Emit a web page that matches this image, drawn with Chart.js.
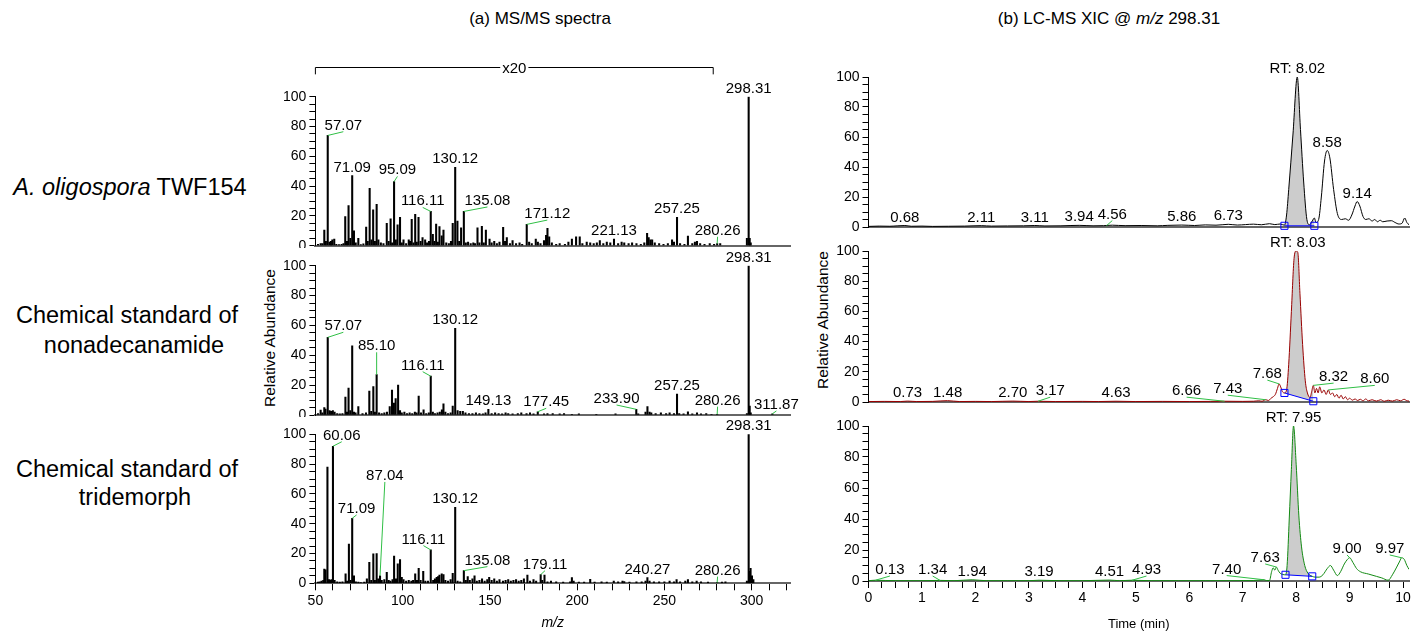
<!DOCTYPE html>
<html><head><meta charset="utf-8">
<script src="https://cdn.jsdelivr.net/npm/chart.js@4.4.1/dist/chart.umd.min.js"></script>
<style>
html,body{margin:0;padding:0;background:#fff;}
body{width:1415px;height:632px;position:relative;overflow:hidden;font-family:"Liberation Sans",Arial,sans-serif;color:#000;}
canvas{position:absolute;}
.t{position:absolute;white-space:nowrap;transform:translate(-50%,-50%);line-height:1;}
.r{transform:translate(-50%,-50%) rotate(-90deg);}
</style></head><body>
<div class="t" style="left:540px;top:18px;font-size:17px">(a) MS/MS spectra</div>
<div class="t" style="left:1109px;top:18px;font-size:17px">(b) LC-MS XIC @ <i>m/z</i> 298.31</div>
<div class="t" style="left:130px;top:188px;font-size:23.5px"><i>A. oligospora</i> TWF154</div>
<div class="t" style="left:127px;top:316px;font-size:23.5px">Chemical standard of</div>
<div class="t" style="left:134px;top:346px;font-size:23.5px">nonadecanamide</div>
<div class="t" style="left:127px;top:470px;font-size:23.5px">Chemical standard of</div>
<div class="t" style="left:135px;top:498px;font-size:23.5px">tridemorph</div>
<div class="t r" style="left:270px;top:338px;font-size:15.5px">Relative Abundance</div>
<div class="t r" style="left:823px;top:320px;font-size:15.5px">Relative Abundance</div>
<canvas id="ms1"></canvas><canvas id="ms2"></canvas><canvas id="ms3"></canvas>
<canvas id="xic1"></canvas><canvas id="xic2"></canvas><canvas id="xic3"></canvas>
<script>
// ---------------- DATA ----------------
// MS/MS spectra: [m/z, relative abundance as displayed]
const twfPeaks = [[51.5,1],[53,1.5],[54,1.5],[55.1,10.5],[56,3],[57.07,74],[58.1,2.5],[58.9,3],[59.7,4],[60.8,4.5],[62,1],[63.5,0.8],[65,1],[66.1,1.5],[67.1,19.5],[68.1,3],[69,27],[70,5],[71.09,47],[72.1,10],[73.1,2],[74.6,5],[76,0.8],[77.5,1.2],[79.1,12.5],[80,3],[81.1,38.5],[82.1,4],[83.1,24],[84.1,3],[85.1,27.7],[86.1,4],[87.5,2],[89,1.5],[90.9,15],[92,3],[93.1,18],[94,2],[95.09,43],[96.1,4],[97.1,14],[98.5,19],[99.5,2],[100.5,4],[102,1.5],[103.5,4],[104.2,3],[105.2,17.7],[106.2,2],[107.2,21],[108.1,2.5],[109.1,19],[110.3,3],[111.4,5.4],[112.9,4],[114,2],[115.1,3],[116.11,23],[117.3,7.6],[118.2,3],[119.2,14.5],[120.2,2.5],[121.1,12.8],[122.4,6.7],[123.4,10.5],[125,2],[126.5,1.5],[127.7,3],[128.7,15],[130.12,52.6],[131.4,16.5],[132.4,3],[133.5,12],[135.08,23],[136.2,2],[137.5,2.5],[139,1.5],[140.5,2],[141.5,1.5],[142.9,12],[144,2],[145.4,13],[146.5,2],[147.7,10.5],[149.8,4.5],[151,2],[152.5,3],[154,1.5],[155.5,2.5],[157.6,12.3],[158.7,3],[159.7,5.4],[161.5,1.5],[163,3.5],[165,1.5],[167,2],[168.5,1],[171.12,14.3],[172.5,2.5],[174,1.5],[176.3,4.5],[177.5,2.5],[179,1.5],[181,3.5],[182.2,7],[183,11.6],[184,6],[185.5,2],[188,1],[190,1.5],[193,1],[195,2.5],[197,4.5],[199.4,6],[201.5,6],[203,1.5],[205.5,2.5],[207.5,2],[209.5,1.5],[211.3,2],[213,3.5],[215,1.5],[217,2.5],[219,2],[221.13,4.5],[223.5,1.5],[225.5,2.5],[227,2],[229.5,1.5],[231.5,2],[234,1.5],[236.5,1],[238.5,2],[240.1,8.3],[241,5.4],[242,4],[243,4],[244.5,2],[247,1.5],[249.5,1],[252,1.5],[254.4,4],[255.5,2.5],[257.25,19],[259,1.5],[261.5,1],[263.5,6.5],[266,1.5],[267.5,2.5],[268.7,3],[270.5,1.5],[273,1],[276,1.5],[278.5,1],[280.26,1.5],[282,1.5],[297.3,5],[298.31,100],[298.9,5],[299.5,2]];
const ndaPeaks = [[51.5,1],[53,3.3],[54,1.5],[55.1,5],[55.8,4],[57.07,52],[58.1,3],[59,2.5],[60,3],[61,2],[62.5,1],[64,0.8],[65.5,1],[67.2,12],[68.1,2],[69,18],[70,3],[71.09,46.4],[72.1,2],[73,1.5],[74.6,5.6],[77,1],[79,1.5],[80.9,16],[82,2.5],[83.2,19],[84.1,2],[85.1,27],[86.5,1.5],[88,1],[89.5,1.5],[91,2],[92.6,5.6],[93.9,16.7],[95,8],[96,11],[97.4,20],[98.5,3],[99.5,1.5],[101,2],[102.5,1],[104,1.5],[105.5,1],[107,2],[108,1.5],[109.2,12.7],[110.5,1.5],[112,3.5],[113.5,1],[115,1.5],[116.11,26],[117.3,2],[118.5,1],[120,1.5],[121.3,2],[122.5,3.5],[123.4,7.4],[124.5,2],[126,1],[127.5,1.5],[128.7,6],[130.12,58],[131.5,3],[133,2.5],[134.5,2.5],[136,1.5],[138,1],[140,1],[142,1.5],[144,1],[146,0.8],[147.5,1.5],[149.13,3.8],[151,1],[153,1.5],[155,1],[157,0.8],[159,1.5],[160.5,1],[163,0.8],[166,1],[168,1.5],[171,1],[173,1.5],[175,0.8],[177.45,2.2],[181,0.8],[183,1],[186,1],[190,0.8],[192.5,1],[197,0.5],[201,0.8],[211,0.5],[222,0.8],[233.9,3.8],[235,0.8],[239.2,2],[240.3,5.6],[241.5,2],[242.5,1.5],[245,1],[248,1.5],[251,1],[253,1.5],[255.5,1],[257.25,14],[258.5,1],[261,0.8],[263.5,2.2],[266,0.8],[268.7,1.5],[271,0.8],[274,1],[277,0.5],[280.26,0.5],[297.3,1],[298.31,100],[298.9,6],[299.5,1.5],[311.87,0.8]];
const triPeaks = [[51.5,0.8],[52.5,1],[53.5,1.5],[54.5,2],[55.1,9.6],[55.8,9],[56.9,78],[57.8,2.5],[58.5,2],[59.2,2.5],[60.06,92],[61,2],[62.5,1],[64,0.8],[65.5,1],[67.3,6.3],[68.2,1.5],[69.2,26.4],[70.2,2],[71.09,43.6],[72.1,5],[73.2,1],[74.6,0.8],[76,0.5],[78,0.8],[79.5,3],[80.9,14],[82,2],[83.2,19.7],[84.1,2],[85.1,20],[86,3],[87.04,5],[88,2],[89.5,2.5],[90.9,7.4],[92,2],[93,1.5],[94.2,2.5],[95.1,18.3],[96.2,3],[97.2,13],[98.5,16],[99.5,4],[100.5,2.5],[102,1.5],[103.5,2],[105,1.5],[106,2],[107.2,6.3],[108.2,2],[109.2,10],[110.3,2],[111.8,8],[113,1.5],[114.5,1.5],[116.11,22.4],[117.5,2],[118.5,3],[119.5,4],[120.3,4.5],[121.1,5.6],[122.4,6.3],[123.4,5.8],[124.5,2],[126,1.5],[127.5,2.5],[128.7,6.7],[130.12,51],[131.5,1.5],[133,1],[135.08,8.5],[136.2,2],[137.3,4.5],[138.5,2],[140,3],[141.2,5],[142.5,1.5],[144,2],[145.5,3],[147,1.5],[148.5,2.5],[149.6,4],[151,2],[152.5,3],[154,1.5],[155.5,2.5],[157.5,1.5],[159,2],[160.5,2.5],[162,1.5],[163.5,2],[165,2.5],[166.5,1.5],[168,2],[169.5,3],[171.5,5.6],[173,1.5],[175,2.5],[176.5,1.5],[179.11,5.8],[180,2],[181.3,5.6],[183,1],[185,1.5],[188,1],[192,0.8],[196,1],[197,3.8],[198,1.5],[201,0.8],[204,0.8],[207.5,2.7],[210,0.8],[214,1],[217,0.8],[221,1.5],[223.5,1],[226,1.5],[227,1.2],[230,0.8],[234,1],[237,1],[239.2,1.5],[240.27,3.8],[241.5,1.5],[244,1],[247,1],[250,1],[253,1.5],[255.5,1],[257,2.5],[259,1],[262,1.5],[263.5,2.5],[266,1],[268.5,1.5],[271,1],[275,0.8],[280.26,0.5],[283,0.8],[285,1],[297.3,1.5],[298.31,100],[298.8,8],[299.4,10],[300.2,5],[301,2.5]];

// peak annotations: [m/z, abundance, text, labelX, labelY] (label position optional, in data units)
const twfMsLabels = [[57.07,74,'57.07',66,76.5],[71.09,47,'71.09'],[95.09,43,'95.09',97,46.5],[116.11,23,'116.11',111.5,25.7],[130.12,52.6,'130.12'],[135.08,23,'135.08',148.6,26],[171.12,14.3,'171.12',182.9,17.2],[221.13,4.5,'221.13'],[257.25,19,'257.25'],[280.26,1.5,'280.26',280.5,6],[298.31,100,'298.31']];
const ndaMsLabels = [[57.07,52,'57.07',66,55.4],[85.1,27,'85.10',85.1,42],[116.11,26,'116.11',111.5,29],[130.12,58,'130.12'],[149.13,3.8,'149.13'],[177.45,2.2,'177.45',182.3,4.5],[233.9,3.8,'233.90',222.6,6.7],[257.25,14,'257.25'],[280.26,0.5,'280.26',280.5,5.6],[298.31,100,'298.31'],[311.87,0.8,'311.87',314.2,2.7]];
const triMsLabels = [[60.06,92,'60.06',65.1,95],[71.09,43.6,'71.09',73.6,45.9],[87.04,5,'87.04',89.8,68],[116.11,22.4,'116.11',111.9,25.3],[130.12,51,'130.12'],[135.08,8.5,'135.08',148.6,11.2],[179.11,5.8,'179.11',181.6,8.5],[240.27,3.8,'240.27'],[280.26,0.5,'280.26',280.5,4.5],[298.31,100,'298.31']];

// XIC traces: [time (min), relative abundance]
const twfXic = [[0,0.4],[0.2,0.6],[0.4,0.5],[0.55,0.8],[0.68,1.0],[0.8,0.5],[1.0,0.6],[1.2,0.4],[1.5,0.5],[1.8,0.6],[2.11,0.9],[2.3,0.6],[2.6,0.7],[2.9,0.8],[3.11,1.0],[3.3,0.7],[3.6,0.8],[3.94,1.1],[4.2,0.8],[4.4,0.9],[4.56,1.2],[4.8,0.9],[5.1,1.0],[5.4,0.8],[5.6,1.1],[5.86,1.3],[6.1,1.0],[6.3,1.4],[6.5,1.2],[6.73,1.8],[6.9,1.3],[7.05,1.6],[7.2,1.9],[7.35,1.5],[7.5,2.2],[7.6,1.6],[7.7,2.0],[7.78,1.2],[7.82,8],[7.86,25],[7.94,62],[8.02,100],[8.08,65],[8.14,30],[8.2,5],[8.25,1.5],[8.3,4],[8.34,6],[8.37,3],[8.42,5],[8.47,20],[8.53,44],[8.58,51],[8.63,46],[8.7,25],[8.77,9],[8.85,5],[8.92,5.5],[8.98,4.5],[9.04,8],[9.1,14],[9.14,17],[9.19,14],[9.25,7],[9.3,5],[9.36,5.5],[9.42,4],[9.47,5],[9.52,3.5],[9.57,4.5],[9.62,3.5],[9.7,4],[9.78,4.2],[9.85,3],[9.92,2],[9.98,2.5],[10.03,6],[10.07,3],[10.11,1.5]];
const ndaXic = [[0,0.3],[0.3,0.4],[0.6,0.3],[0.73,0.6],[0.9,0.3],[1.2,0.4],[1.48,0.9],[1.7,0.3],[2.0,0.4],[2.3,0.3],[2.7,0.6],[3.0,0.3],[3.17,0.5],[3.5,0.3],[4.0,0.4],[4.3,0.3],[4.63,0.5],[5.0,0.3],[5.5,0.4],[6.0,0.3],[6.4,0.4],[6.66,0.5],[7.0,0.4],[7.2,0.5],[7.3,0.8],[7.36,0.5],[7.43,1.5],[7.48,1.0],[7.53,2.5],[7.57,3.5],[7.61,5],[7.65,9],[7.68,12],[7.71,10],[7.74,7],[7.78,6],[7.82,8],[7.86,25],[7.91,60],[7.96,95],[8.0,100],[8.03,99],[8.07,72],[8.12,38],[8.17,14],[8.21,6],[8.26,3],[8.29,7],[8.32,11],[8.35,6],[8.38,9],[8.41,6],[8.44,10],[8.48,6],[8.52,8],[8.56,5],[8.6,8],[8.64,5],[8.68,6],[8.72,3.5],[8.76,5],[8.8,2.5],[8.84,4.5],[8.88,2],[8.92,3.5],[8.96,1.5],[9.0,2.5],[9.05,1.2],[9.1,2],[9.15,1],[9.2,1.8],[9.25,0.8],[9.3,2],[9.35,0.8],[9.42,1.5],[9.5,0.6],[9.58,1.5],[9.65,0.5],[9.72,1.2],[9.8,0.6],[9.88,1.5],[9.95,0.8],[10.02,1.8],[10.06,1],[10.11,0.6]];
const triXic = [[0,0.2],[0.13,0.5],[0.5,0.2],[1.0,0.2],[1.34,0.4],[1.6,0.2],[1.94,0.8],[2.2,0.2],[2.6,0.2],[3.0,0.2],[3.19,0.5],[3.6,0.2],[4.0,0.2],[4.51,0.6],[4.7,0.2],[4.93,0.5],[5.3,0.2],[5.8,0.2],[6.3,0.2],[6.8,0.2],[7.2,0.3],[7.4,0.8],[7.44,0.3],[7.5,0.3],[7.54,6],[7.57,8.5],[7.6,7],[7.63,9],[7.66,7],[7.7,5],[7.75,4.2],[7.8,4],[7.83,10],[7.87,40],[7.91,72],[7.95,100],[8.0,75],[8.05,42],[8.1,22],[8.16,10],[8.22,5],[8.3,3],[8.36,2.5],[8.43,2.5],[8.5,4],[8.58,8],[8.64,10],[8.7,7],[8.77,3.5],[8.83,6],[8.9,11],[8.96,14],[9.0,15],[9.06,12],[9.13,8],[9.2,6],[9.35,4.5],[9.5,3],[9.6,2],[9.72,0.5],[9.8,4],[9.88,9],[9.94,13],[9.97,15],[10.02,14],[10.07,10],[10.11,7.5]];

// integration baselines (peak start / end)
const twfBase = [[7.78,0.8],[8.34,0.8]];
const ndaBase = [[7.78,6],[8.32,0.5]];
const triBase = [[7.8,4],[8.3,3]];

// XIC annotations: [time, abundance, text, labelX, labelY]
const twfXicLabels = [[0.68,1.0,'0.68'],[2.11,0.9,'2.11'],[3.11,1.0,'3.11'],[3.94,1.1,'3.94'],[4.45,0.8,'4.56',4.56,4.3],[5.86,1.3,'5.86'],[6.73,1.8,'6.73'],[8.02,100,'RT: 8.02'],[8.58,51,'8.58'],[9.14,17,'9.14']];
const ndaXicLabels = [[0.73,0.6,'0.73'],[1.48,0.9,'1.48'],[2.7,0.6,'2.70'],[3.17,0.5,'3.17',3.4,3.2],[4.63,0.5,'4.63'],[6.66,0.5,'6.66',5.95,3.2],[7.43,1.5,'7.43',6.72,4.5],[7.68,12,'7.68',7.46,14.5],[8.03,100,'RT: 8.03'],[8.32,11,'8.32',8.7,12.5],[8.6,8,'8.60',9.47,11]];
const triXicLabels = [[0.13,0.5,'0.13',0.4,3.2],[1.34,0.4,'1.34',1.2,3.2],[1.94,0.8,'1.94'],[3.19,0.5,'3.19'],[4.51,0.6,'4.51'],[4.93,0.5,'4.93',5.2,3.2],[7.4,0.8,'7.40',6.7,3.5],[7.63,9,'7.63',7.42,11],[7.95,100,'RT: 7.95'],[9.0,15,'9.00',8.95,16.8],[9.97,15,'9.97',9.75,16.8]];

// ---------------- RENDER ----------------
Chart.defaults.font.family = '"Liberation Sans", Arial, sans-serif';
Chart.defaults.color = '#000';
const LEADER = '#2fbf45';
const ANNOT = {};

const annot = {
  id: 'annot',
  afterDatasetsDraw(chart) {
    const a = ANNOT[chart.canvas.id]; if (!a) return;
    const ctx = chart.ctx, xs = chart.scales.x, ys = chart.scales.y;
    ctx.save();
    ctx.font = '15px "Liberation Sans", Arial, sans-serif';
    ctx.textAlign = 'center'; ctx.textBaseline = 'alphabetic';
    a.items.forEach(it => {
      const px = xs.getPixelForValue(it[0]), py = ys.getPixelForValue(it[1]);
      let lx = px, ly = py - 4;
      if (it.length > 3) {
        lx = xs.getPixelForValue(it[3]); ly = ys.getPixelForValue(it[4]);
        ctx.strokeStyle = LEADER; ctx.lineWidth = 1;
        ctx.beginPath(); ctx.moveTo(px, py); ctx.lineTo(lx, ly); ctx.stroke();
        ly -= 2;
      }
      ctx.fillStyle = '#000';
      ctx.fillText(it[2], lx, ly);
    });
    if (a.bracket) {
      const b = a.bracket;
      const x0 = xs.getPixelForValue(b.from), x1 = xs.getPixelForValue(b.to);
      const y0 = Math.round(ys.getPixelForValue(b.level)) + 0.5, y1 = ys.getPixelForValue(b.tick);
      const xm = (x0 + x1) / 2, tw = ctx.measureText(b.text).width / 2 + 2;
      ctx.strokeStyle = '#000'; ctx.lineWidth = 1;
      ctx.beginPath();
      ctx.moveTo(x0, y1); ctx.lineTo(x0, y0); ctx.lineTo(xm - tw, y0);
      ctx.moveTo(xm + tw, y0); ctx.lineTo(x1, y0); ctx.lineTo(x1, y1);
      ctx.stroke();
      ctx.textBaseline = 'middle';
      ctx.fillText(b.text, xm, y0 + 1);
    }
    ctx.restore();
  }
};

function frame(box, area) {
  return { yW: area.l - box.left, xH: box.top + box.height - area.b, pt: area.t - box.top, pr: box.left + box.width - area.r };
}
function setupCanvas(id, box) {
  const c = document.getElementById(id);
  c.width = box.width; c.height = box.height;
  c.style.left = box.left + 'px'; c.style.top = box.top + 'px';
  c.style.width = box.width + 'px'; c.style.height = box.height + 'px';
  return c;
}
function yScale(f) {
  return {
    type: 'linear', min: 0, max: 100, position: 'left',
    afterFit(s) { s.width = f.yW; s.paddingTop = 0; s.paddingBottom = 0; },
    ticks: { stepSize: 5, autoSkip: false, padding: 3, font: { size: 14 }, color: '#000',
      callback: v => (v % 20 === 0 ? String(v) : '') },
    grid: { drawOnChartArea: false, tickLength: 6, color: '#000', lineWidth: 1 },
    border: { display: true, color: '#000', width: 1 }
  };
}
function xScale(f, show, min, max, step, isMajor, title, titleFont) {
  return {
    type: 'linear', min: min, max: max, offset: false, position: 'bottom',
    afterFit(s) { s.height = f.xH; s.paddingLeft = 0; s.paddingRight = 0; },
    ticks: { display: show, stepSize: step, autoSkip: false, includeBounds: false, maxRotation: 0,
      padding: 2, font: { size: 14 }, color: '#000',
      callback: v => (isMajor(v) ? String(Math.round(v)) : '') },
    grid: { display: show, offset: false, drawOnChartArea: false, tickLength: 7, color: '#000' },
    border: { display: true, color: '#666', width: 2 },
    title: { display: show, text: title, font: titleFont, color: '#000', padding: { top: 0, bottom: 0 } }
  };
}
const isMz = v => Math.abs(v % 50) < 1e-6;
const isMin = v => Math.abs(v - Math.round(v)) < 1e-6;

function makeMS(id, peaks, labels, box, area, showX, bracket) {
  const f = frame(box, area);
  const c = setupCanvas(id, box);
  ANNOT[id] = { items: labels, bracket: bracket };
  new Chart(c, {
    type: 'bar',
    data: { datasets: [{ data: peaks.map(p => ({ x: p[0], y: p[1] })), backgroundColor: '#000',
      borderWidth: 0, barThickness: 1.4, grouped: false }] },
    options: {
      responsive: false, animation: false, events: [],
      layout: { padding: { left: 0, right: f.pr, top: f.pt, bottom: 0 } },
      plugins: { legend: { display: false }, tooltip: { enabled: false } },
      scales: { x: xScale(f, showX, 50, 322, 10, isMz, 'm/z', { size: 14, style: 'italic' }), y: yScale(f) }
    },
    plugins: [annot]
  });
}

function makeXIC(id, trace, base, color, labels, box, area, showX) {
  const f = frame(box, area);
  const c = setupCanvas(id, box);
  ANNOT[id] = { items: labels };
  const t0 = base[0][0], t1 = base[base.length - 1][0];
  const inPeak = trace.filter(p => p[0] >= t0 - 1e-9 && p[0] <= t1 + 1e-9);
  const xy = p => ({ x: p[0], y: p[1] });
  new Chart(c, {
    type: 'line',
    data: { datasets: [
      { data: trace.map(xy), borderColor: color, borderWidth: 1, pointRadius: 0,
        cubicInterpolationMode: 'monotone', fill: false, order: 2 },
      { data: base.map(xy), borderColor: '#0000ff', borderWidth: 1, pointRadius: 5, pointStyle: 'rect',
        pointBorderColor: '#0000ff', pointBackgroundColor: 'rgba(0,0,0,0)', pointBorderWidth: 1,
        fill: false, order: 1, clip: false },
      { data: inPeak.map(xy), borderColor: 'rgba(0,0,0,0)', borderWidth: 0, pointRadius: 0,
        cubicInterpolationMode: 'monotone', fill: 1, backgroundColor: '#cccccc', order: 3 }
    ] },
    options: {
      responsive: false, animation: false, events: [],
      layout: { padding: { left: 0, right: f.pr, top: f.pt, bottom: 0 } },
      plugins: { legend: { display: false }, tooltip: { enabled: false } },
      scales: { x: xScale(f, showX, 0, 10.11, 0.25, isMin, 'Time (min)', { size: 13 }), y: yScale(f) }
    },
    plugins: [annot]
  });
}

makeMS('ms1', twfPeaks, twfMsLabels, { left: 240, top: 55, width: 570, height: 193 },
  { l: 315.4, t: 96.7, r: 790, b: 245.7 }, false, { from: 50, to: 278, level: 120, tick: 115, text: 'x20' });
makeMS('ms2', ndaPeaks, ndaMsLabels, { left: 240, top: 240, width: 570, height: 177 },
  { l: 315.4, t: 265.7, r: 790, b: 415 }, false, null);
makeMS('ms3', triPeaks, triMsLabels, { left: 240, top: 410, width: 570, height: 222 },
  { l: 315.4, t: 434.3, r: 790, b: 583.3 }, true, null);

makeXIC('xic1', twfXic, twfBase, '#000000', twfXicLabels, { left: 800, top: 55, width: 615, height: 178 },
  { l: 868.5, t: 77, r: 1411.6, b: 230.5 }, false);
makeXIC('xic2', ndaXic, ndaBase, '#990000', ndaXicLabels, { left: 800, top: 225, width: 615, height: 183 },
  { l: 868.5, t: 251, r: 1411.6, b: 406 }, false);
makeXIC('xic3', triXic, triBase, '#138a13', triXicLabels, { left: 800, top: 400, width: 615, height: 232 },
  { l: 868.5, t: 426, r: 1411.6, b: 581 }, true);
</script>
</body></html>
